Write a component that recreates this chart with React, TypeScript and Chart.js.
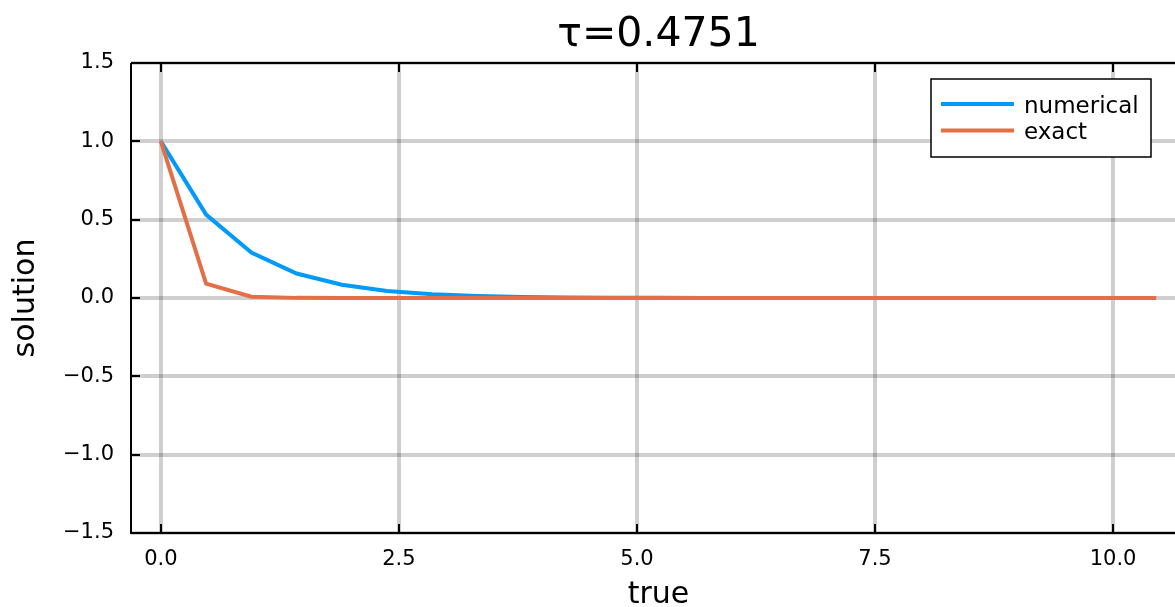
import React, { useEffect, useRef } from "react";
import { Chart, registerables } from "chart.js";

Chart.register(...registerables);

const TITLE = "τ=0.4751";
const X_LABEL = "true";
const Y_LABEL = "solution";
const SERIES_NAMES = ["numerical", "exact"];
const SERIES_COLORS = ["#009AFA", "#E36F47"];

// time grid, step 0.4751
const timePoints = [
  0, 0.4751, 0.9502, 1.4253, 1.9004, 2.3755, 2.8506, 3.3257, 3.8008, 4.2759,
  4.751, 5.2261, 5.7012, 6.1763, 6.6514, 7.1265, 7.6016, 8.0767, 8.5518,
  9.0269, 9.502, 9.9771, 10.4522,
];

const numerical = [
  1, 0.532, 0.29, 0.156, 0.085, 0.045, 0.024, 0.013, 0.007, 0.0037, 0.002,
  0.0011, 0.0006, 0.0003, 0.0002, 0.0001, 0, 0, 0, 0, 0, 0, 0,
];

const exact = [
  1, 0.092, 0.0085, 0.0008, 0.0001, 0, 0, 0, 0, 0, 0, 0, 0, 0, 0, 0, 0, 0, 0,
  0, 0, 0, 0,
];

const xTicks = [0, 2.5, 5, 7.5, 10];
const yTicks = [-1.5, -1, -0.5, 0, 0.5, 1, 1.5];
const xRange = [-0.3136, 10.7658];
const yRange = [-1.5, 1.5];

const FONT = "'DejaVu Sans', 'Liberation Sans', sans-serif";
const GRID_COLOR = "rgba(0,0,0,0.19)";

const fmt = (v: number) => (v < 0 ? "\u2212" : "") + Math.abs(v).toFixed(1);

// Box frame with inward ticks, title and legend box
const decorations = {
  id: "decorations",
  afterDraw(chart: any) {
    const { ctx, chartArea } = chart;
    const { left, right, top, bottom } = chartArea;
    const xs = chart.scales.x;
    const ys = chart.scales.y;
    ctx.save();

    // frame
    ctx.strokeStyle = "#000";
    ctx.lineWidth = 2;
    ctx.beginPath();
    ctx.moveTo(left, top);
    ctx.lineTo(right, top);
    ctx.lineTo(right, bottom);
    ctx.moveTo(left, top);
    ctx.lineTo(left, bottom);
    ctx.lineTo(right, bottom);
    ctx.stroke();

    // inward ticks on all sides
    const tl = 9;
    ctx.beginPath();
    xs.ticks.forEach((t: any) => {
      const px = Math.round(xs.getPixelForValue(t.value));
      ctx.moveTo(px, bottom);
      ctx.lineTo(px, bottom - tl);
      ctx.moveTo(px, top);
      ctx.lineTo(px, top + tl);
    });
    ys.ticks.forEach((t: any) => {
      const py = Math.round(ys.getPixelForValue(t.value));
      ctx.moveTo(left, py);
      ctx.lineTo(left + tl, py);
      ctx.moveTo(right, py);
      ctx.lineTo(right - tl, py);
    });
    ctx.stroke();

    // title
    ctx.fillStyle = "#000";
    ctx.font = `41px ${FONT}`;
    ctx.textAlign = "center";
    ctx.textBaseline = "alphabetic";
    ctx.fillText(TITLE, (left + right) / 2, 46);

    // legend
    const bx = right - 255;
    const by = top + 16;
    const bw = 220;
    const bh = 78;
    ctx.fillStyle = "#fff";
    ctx.fillRect(bx, by, bw, bh);
    ctx.strokeStyle = "#000";
    ctx.lineWidth = 1.5;
    ctx.strokeRect(bx, by, bw, bh);
    ctx.font = `23px ${FONT}`;
    ctx.textAlign = "left";
    chart.data.datasets.forEach((ds: any, i: number) => {
      const ly = by + 25 + i * 26.5;
      ctx.strokeStyle = ds.borderColor;
      ctx.lineWidth = 4;
      ctx.beginPath();
      ctx.moveTo(bx + 10, ly);
      ctx.lineTo(bx + 83, ly);
      ctx.stroke();
      ctx.fillStyle = "#000";
      ctx.fillText(ds.label, bx + 93, ly + 8.5);
    });

    ctx.restore();
  },
};

export default function App() {
  const canvasRef = useRef<HTMLCanvasElement | null>(null);

  useEffect(() => {
    const canvas = canvasRef.current;
    if (!canvas) return;
    const chart = new Chart(canvas, {
      type: "line",
      data: {
        datasets: [
          {
            label: SERIES_NAMES[0],
            data: timePoints.map((t, i) => ({ x: t, y: numerical[i] })),
            borderColor: SERIES_COLORS[0],
            backgroundColor: SERIES_COLORS[0],
            borderWidth: 4,
            pointRadius: 0,
            tension: 0,
            order: 2,
          },
          {
            label: SERIES_NAMES[1],
            data: timePoints.map((t, i) => ({ x: t, y: exact[i] })),
            borderColor: SERIES_COLORS[1],
            backgroundColor: SERIES_COLORS[1],
            borderWidth: 4,
            pointRadius: 0,
            tension: 0,
            order: 1,
          },
        ],
      },
      options: {
        responsive: false,
        animation: false,
        devicePixelRatio: 1,
        layout: { padding: { top: 63, right: 14, left: 0, bottom: 0 } },
        plugins: {
          legend: { display: false },
          title: { display: false },
          tooltip: { enabled: false },
        },
        scales: {
          x: {
            type: "linear",
            min: xRange[0],
            max: xRange[1],
            afterBuildTicks: (scale: any) => {
              scale.ticks = xTicks.map((v) => ({ value: v }));
            },
            afterFit: (scale: any) => {
              scale.height = 74;
            },
            grid: {
              color: GRID_COLOR,
              lineWidth: 4,
              drawTicks: false,
            },
            border: { display: false },
            ticks: {
              color: "#000",
              padding: 14,
              maxRotation: 0,
              font: { family: FONT, size: 21 },
              callback: (v: any) => fmt(Number(v)),
            },
            title: {
              display: true,
              text: X_LABEL,
              color: "#000",
              font: { family: FONT, size: 30, lineHeight: 0.8 },
              padding: { top: 0, bottom: 0 },
            },
          },
          y: {
            type: "linear",
            min: yRange[0],
            max: yRange[1],
            afterBuildTicks: (scale: any) => {
              scale.ticks = yTicks.map((v) => ({ value: v }));
            },
            afterFit: (scale: any) => {
              scale.width = 131;
            },
            grid: {
              color: GRID_COLOR,
              lineWidth: 4,
              drawTicks: false,
            },
            border: { display: false },
            ticks: {
              color: "#000",
              padding: 17,
              font: { family: FONT, size: 21 },
              callback: (v: any) => fmt(Number(v)),
            },
            title: {
              display: true,
              text: Y_LABEL,
              color: "#000",
              font: { family: FONT, size: 30 },
              padding: { top: 8, bottom: 0 },
            },
          },
        },
      },
      plugins: [decorations],
    });
    return () => chart.destroy();
  }, []);

  return (
    <div
      style={{
        position: "fixed",
        left: 0,
        top: 0,
        width: 1175,
        height: 607,
        overflow: "hidden",
        background: "#fff",
      }}
    >
      <canvas ref={canvasRef} width={1200} height={607} style={{ display: "block" }} />
    </div>
  );
}
